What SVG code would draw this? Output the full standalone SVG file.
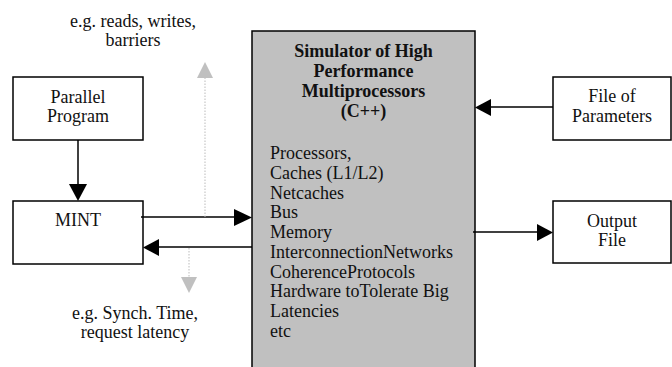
<svg xmlns="http://www.w3.org/2000/svg" width="672" height="367" viewBox="0 0 672 367">
<defs>
<style>
.box{fill:#fff;stroke:#000;stroke-width:1.5}
.sim{fill:#c0c0c0;stroke:#000;stroke-width:1.5}
.t{font-family:"Liberation Serif","Times New Roman",serif;font-size:18px;fill:#111}
.c{text-anchor:middle}
.b{font-weight:bold}
.ln{stroke:#000;stroke-width:1.5;fill:none}
.dt{stroke:#bbb;stroke-width:1;stroke-dasharray:1.5,1.5;fill:none}
.ah{fill:#000}
.gh{fill:#c0c0c0}
</style>
</defs>
<rect width="672" height="367" fill="#fff"/>
<g id="sim">
<rect class="sim" x="252" y="31" width="223" height="345"/>
<text class="t c b" x="363.5" y="57">Simulator of High</text>
<text class="t c b" x="363.5" y="77">Performance</text>
<text class="t c b" x="363.5" y="97">Multiprocessors</text>
<text class="t c b" x="363.5" y="117">(C++)</text>
<text class="t" x="270" y="159">Processors,</text>
<text class="t" x="270" y="179">Caches (L1/L2)</text>
<text class="t" x="270" y="198.5">Netcaches</text>
<text class="t" x="270" y="218">Bus</text>
<text class="t" x="270" y="238">Memory</text>
<text class="t" x="270" y="258">InterconnectionNetworks</text>
<text class="t" x="270" y="277.5">CoherenceProtocols</text>
<text class="t" x="270" y="297">Hardware toTolerate Big</text>
<text class="t" x="270" y="317">Latencies</text>
<text class="t" x="270" y="337">etc</text>
</g>
<g id="parallel">
<rect class="box" x="13" y="77" width="130" height="63"/>
<text class="t c" x="78" y="103">Parallel</text>
<text class="t c" x="78" y="122">Program</text>
</g>
<g id="mint">
<rect class="box" x="13" y="201" width="130" height="63"/>
<text class="t c" x="78" y="226">MINT</text>
</g>
<g id="params">
<rect class="box" x="553" y="77" width="118" height="63"/>
<text class="t c" x="612" y="102">File of</text>
<text class="t c" x="612" y="122">Parameters</text>
</g>
<g id="output">
<rect class="box" x="553" y="201" width="118" height="62"/>
<text class="t c" x="612" y="227">Output</text>
<text class="t c" x="612" y="246">File</text>
</g>
<g id="labels">
<text class="t c" x="133" y="27">e.g. reads, writes,</text>
<text class="t c" x="133" y="46">barriers</text>
<text class="t c" x="135" y="319">e.g. Synch. Time,</text>
<text class="t c" x="135" y="338">request latency</text>
</g>
<g id="connectors">
<line class="ln" x1="78" y1="140" x2="78" y2="185"/>
<polygon class="ah" points="69,184 87,184 78,201"/>
<line class="ln" x1="141" y1="217" x2="236" y2="217"/>
<polygon class="ah" points="234,209 234,226 252,217.5"/>
<line class="ln" x1="252" y1="247" x2="158" y2="247"/>
<polygon class="ah" points="159,239 159,256 143,247.5"/>
<line class="ln" x1="553" y1="107" x2="490" y2="107"/>
<polygon class="ah" points="491,99 491,116 475,107.5"/>
<line class="ln" x1="473" y1="232" x2="538" y2="232"/>
<polygon class="ah" points="537,224 537,241 553,232.5"/>
<line class="dt" x1="205" y1="217" x2="205" y2="78"/>
<polygon class="gh" points="197,78 213,78 205,62"/>
<line class="dt" x1="189" y1="248" x2="189" y2="277"/>
<polygon class="gh" points="181,277 197,277 189,293"/>
</g>
</svg>
